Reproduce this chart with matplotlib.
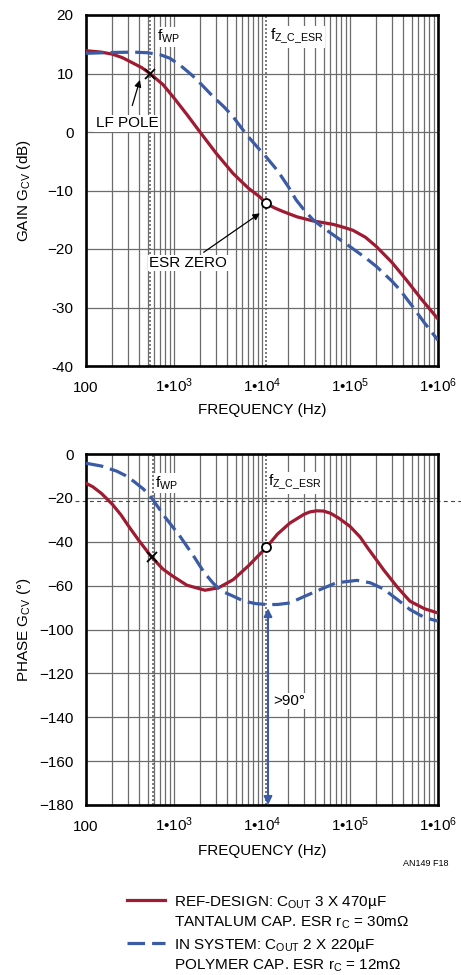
import matplotlib
matplotlib.use('Agg')
import matplotlib.pyplot as plt
from matplotlib.ticker import LogLocator, NullFormatter
from matplotlib.lines import Line2D

# Fonts (no condensed face installed, so Liberation Sans a bit smaller)
FONT = ['Liberation Sans Narrow', 'Liberation Sans', 'DejaVu Sans']
plt.rcParams['font.family'] = FONT
plt.rcParams['mathtext.fontset'] = 'custom'
plt.rcParams['mathtext.rm'] = 'Liberation Sans'
plt.rcParams['mathtext.it'] = 'Liberation Sans'
plt.rcParams['mathtext.bf'] = 'Liberation Sans'
plt.rcParams['mathtext.default'] = 'rm'

RED = '#9e1b32'
BLUE = '#3b5ba5'
GRID = '#6c6c6c'

# ---- Data ----
# gain, REF-DESIGN (solid red)
gain_ref_f = [100, 150, 200, 260, 345, 430, 533, 750, 978, 1400, 1974, 3000, 4700, 7000, 9450,
              11100, 14000, 17400, 25000, 37900, 50000, 64800, 85000, 108000, 150000,
              200000, 300000, 438000, 650000, 955000, 1000000]
gain_ref_db = [13.9, 13.65, 13.3, 12.7, 11.75, 11.0, 10.0, 8.1, 6.0, 3.0, 0.0, -3.6, -7.1, -9.6,
               -11.1, -12.2, -13.0, -13.6, -14.5, -15.2, -15.5, -15.8, -16.3, -16.8, -18.0,
               -19.6, -22.3, -25.3, -28.6, -31.6, -32.0]
# gain, IN SYSTEM (dashed blue)
gain_sys_f = [100, 200, 350, 500, 700, 900, 1200, 1590, 2000, 2800, 3700, 4700, 6700, 9000,
              11200, 15000, 20000, 24400, 30000, 38000, 50000, 64800, 100000, 150000,
              200000, 300000, 370000, 500000, 700000, 1000000]
gain_sys_db = [13.45, 13.6, 13.65, 13.55, 13.2, 12.6, 11.3, 9.75, 8.3, 6.0, 4.3, 2.6, -0.5, -2.7,
               -4.3, -6.6, -9.4, -11.6, -13.3, -15.0, -16.4, -17.6, -19.6, -21.5,
               -23.0, -25.5, -27.0, -29.6, -32.6, -35.6]
# phase, REF-DESIGN
phase_ref_f = [100, 120, 150, 200, 250, 300, 400, 558, 750, 978, 1400, 2250, 3200, 4700, 7000,
               11200, 15000, 20700, 30000, 35000, 41800, 50000, 60000, 75000, 100000, 130000,
               160000, 200000, 240000, 350000, 480000, 700000, 1000000]
phase_ref_deg = [-13.3, -15.0, -18.0, -23.0, -27.8, -32.5, -39.5, -47.0, -52.5, -55.8, -59.8,
                 -62.1, -61.0, -57.3, -51.0, -42.6, -36.5, -31.5, -27.5, -26.4, -25.9, -26.0,
                 -27.0, -29.3, -33.0, -37.8, -43.0, -48.3, -52.7, -61.0, -67.1, -70.5, -72.5]
# phase, IN SYSTEM
phase_sys_f = [100, 150, 223, 280, 350, 450, 558, 800, 1170, 1700, 2200, 2800, 3500, 4700,
               5800, 7000, 8500, 11200, 15000, 20700, 30000, 45700, 70000, 120000, 170000,
               240000, 350000, 480000, 700000, 1000000]
phase_sys_deg = [-4.2, -5.5, -7.8, -9.8, -12.5, -16.0, -20.1, -29.0, -37.5, -47.0, -54.0, -59.0,
                 -62.5, -64.8, -66.5, -67.5, -68.2, -68.6, -68.6, -67.9, -65.0, -61.8, -58.7,
                 -57.6, -58.7, -61.5, -66.5, -70.9, -74.5, -76.2]

gain_ticks = [20, 10, 0, -10, -20, -30, -40]
gain_labels = ['20', '10', '0', '\u221210', '\u221220', '-30', '-40']
phase_ticks = [0, -20, -40, -60, -80, -100, -120, -140, -160]
phase_labels = ['0', '\u221220', '\u221240', '\u221260', '\u2212100', '\u2212120',
                '\u2212140', '\u2212160', '\u2212180']
freq_ticks = [100, 1e3, 1e4, 1e5, 1e6]
freq_labels = ['100', '1\u202210$^{3}$', '1\u202210$^{4}$', '1\u202210$^{5}$', '1\u202210$^{6}$']

f_wp_gain, f_wp_phase = 533, 573
f_zc = 11200
lf_pole = (533, 10.0)
esr_zero_gain = (11100, -12.2)
wp_phase = (558, -47.0)
esr_zero_phase = (11200, -42.6)
phase_ref_line = -21.4
margin_top, margin_bot = -69.0, -160.0

W, H = 461, 975
fig = plt.figure(figsize=(W / 100, H / 100), dpi=100)
ax1 = fig.add_axes([86 / W, 1 - 366 / H, 352 / W, 351 / H])
ax2 = fig.add_axes([86 / W, 1 - 805 / H, 352 / W, 351 / H])

FS = 11


def style_axes(ax, yticks, ylabels, ylim):
    ax.set_xscale('log')
    ax.set_xlim(100, 1e6)
    ax.set_ylim(*ylim)
    ax.xaxis.set_minor_locator(LogLocator(base=10, subs=range(2, 10)))
    ax.xaxis.set_minor_formatter(NullFormatter())
    ax.set_xticks(freq_ticks)
    ax.set_xticklabels(freq_labels)
    ax.set_yticks(yticks)
    ax.set_yticklabels(ylabels)
    ax.grid(which='both', axis='x', color=GRID, lw=0.9)
    ax.grid(which='major', axis='y', color=GRID, lw=0.9)
    ax.tick_params(which='both', length=0)
    ax.tick_params(axis='y', pad=9, labelsize=FS)
    ax.tick_params(axis='x', pad=19, labelsize=FS)
    for lab in ax.get_xticklabels():
        lab.set_va('baseline')
    for s in ax.spines.values():
        s.set_linewidth(1.9)
    ax.set_axisbelow(True)


style_axes(ax1, gain_ticks, gain_labels, (-40, 20))
style_axes(ax2, phase_ticks, phase_labels, (-160, 0))

# vertical marker lines
for ax, fw in ((ax1, f_wp_gain), (ax2, f_wp_phase)):
    ax.axvline(fw, color='#666666', ls=(0, (1.2, 1.2)), lw=1.2, zorder=1.5)
    ax.axvline(f_zc, color='#666666', ls=(0, (1.2, 1.2)), lw=1.2, zorder=1.5)

# curves
ax1.plot(gain_ref_f, gain_ref_db, color=RED, lw=2.3, zorder=3)
ax1.plot(gain_sys_f, gain_sys_db, color=BLUE, lw=2.3, dashes=(5.5, 2.2), zorder=3)
ax2.plot(phase_ref_f, phase_ref_deg, color=RED, lw=2.3, zorder=3)
ax2.plot(phase_sys_f, phase_sys_deg, color=BLUE, lw=2.3, dashes=(5.5, 2.2), zorder=3)

# markers
ax1.plot(*lf_pole, marker='x', color='black', ms=7, mew=1.3, zorder=4)
ax1.plot(*esr_zero_gain, marker='o', mfc='white', mec='black', ms=6.5, mew=1.3, zorder=4)
ax2.plot(*wp_phase, marker='x', color='black', ms=7, mew=1.3, zorder=4)
ax2.plot(*esr_zero_phase, marker='o', mfc='white', mec='black', ms=6.5, mew=1.3, zorder=4)

box = dict(fc='white', ec='none', pad=1.0)
ax1.text(641, 16.3, 'f$_{WP}$', fontsize=FS, va='center', ha='left', bbox=box, zorder=5)
ax1.text(12370, 16.3, r'f$_{Z\_C\_ESR}$', fontsize=FS, va='center', ha='left', bbox=box, zorder=5)
ax2.text(610, -13.2, 'f$_{WP}$', fontsize=FS, va='center', ha='left', bbox=box, zorder=5)
ax2.text(11700, -13.2, r'f$_{Z\_C\_ESR}$', fontsize=FS, va='center', ha='left', bbox=box, zorder=5)

# annotations
ax1.annotate('LF POLE', xy=(410, 8.9), xytext=(292, 1.5), fontsize=FS, ha='center', va='center',
             bbox=box, zorder=5,
             arrowprops=dict(arrowstyle='-|>', color='black', lw=0.9, mutation_scale=10,
                             shrinkA=7, shrinkB=0))
ax1.annotate('ESR ZERO', xy=(9450, -13.9), xytext=(1450, -22.4), fontsize=FS, ha='center',
             va='center', bbox=box, zorder=5,
             arrowprops=dict(arrowstyle='-|>', color='black', lw=0.9, mutation_scale=10,
                             shrinkA=3, shrinkB=0))

ax2.annotate('', xy=(f_zc + 500, margin_bot), xytext=(f_zc + 500, margin_top),
             arrowprops=dict(arrowstyle='<|-|>', color=BLUE, lw=1.5, mutation_scale=12,
                             shrinkA=2, shrinkB=0), zorder=4)
ax2.text(13300, -112.6, '>90\u00b0', fontsize=FS, ha='left', va='center', bbox=box, zorder=5)

# horizontal dashed reference line across the phase plot
ax2.plot([-0.03, 1.07], [phase_ref_line, phase_ref_line], transform=ax2.get_yaxis_transform(),
         color='#444444', lw=0.8, dashes=(3.5, 3), clip_on=False, zorder=2)

# axis labels
ax1.set_ylabel('GAIN G$_{CV}$ (dB)', fontsize=FS)
ax1.yaxis.set_label_coords(-0.15, 0.5)
ax2.set_ylabel('PHASE G$_{CV}$ ($\u00b0$)', fontsize=FS)
ax2.yaxis.set_label_coords(-0.15, 0.5)
ax1.set_xlabel('FREQUENCY (Hz)', fontsize=FS)
ax1.xaxis.set_label_coords(0.5, -0.105)
ax2.set_xlabel('FREQUENCY (Hz)', fontsize=FS)
ax2.xaxis.set_label_coords(0.5, -0.111)

fig.text(448 / W, 1 - 863 / H, 'AN149 F18', fontsize=6.5, ha='right', va='center')

# legend drawn by hand
fig.add_artist(Line2D([127 / W, 165 / W], [1 - 900 / H] * 2, color=RED, lw=2.3))
fig.add_artist(Line2D([127 / W, 165 / W], [1 - 943 / H] * 2, color=BLUE, lw=2.3,
                      dashes=(5.5, 2.2)))
legend_lines = [
    (900, 'REF-DESIGN: C$_{OUT}$ 3 X 470\u00b5F'),
    (921, 'TANTALUM CAP. ESR r$_{C}$ = 30m\u03a9'),
    (943, 'IN SYSTEM: C$_{OUT}$ 2 X 220\u00b5F'),
    (964, 'POLYMER CAP. ESR r$_{C}$ = 12m\u03a9'),
]
for y, txt in legend_lines:
    fig.text(174 / W, 1 - y / H, txt, fontsize=FS, ha='left', va='center_baseline')

fig.savefig('out.png', dpi=100)
